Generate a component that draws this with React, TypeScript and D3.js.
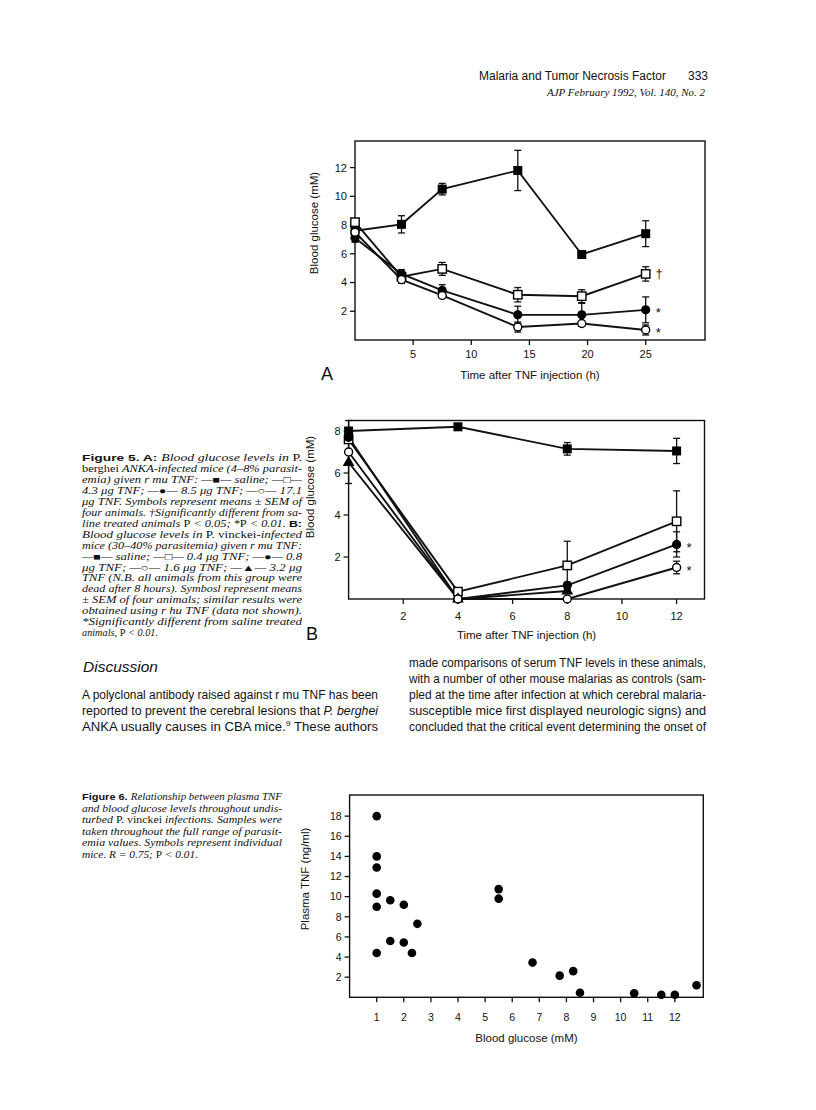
import * as d3 from 'd3'

const SANS = '"Liberation Sans", Arial, Helvetica, sans-serif'
const SERIF = '"Liberation Serif", "DejaVu Serif", serif'

// Figure 5A: P. berghei ANKA, blood glucose (mM) against hours after TNF
const timesA = [0, 4, 7.5, 14, 19.5, 25]
const salineA = [7.6, 8.05, 10.5, 11.8, 5.95, 7.4]
const salineErrA = [0, 0.6, 0.4, 1.4, 0.1, 0.9]
const tnf43A = [8.2, 4.4, 4.95, 3.15, 3.05, 4.6]
const tnf43ErrA = [0, 0.3, 0.45, 0.5, 0.45, 0.5]
const tnf85A = [7.1, 4.6, 3.45, 1.75, 1.75, 2.1]
const tnf85ErrA = [0.3, 0.3, 0.4, 0.6, 0.8, 0.9]
const tnf171A = [7.5, 4.2, 3.1, 0.9, 1.15, 0.7]
const tnf171ErrA = [0.2, 0.25, 0.15, 0.35, 0.1, 0.35]
const xTicksA = [5, 10, 15, 20, 25]
const yTicksA = [2, 4, 6, 8, 10, 12]

// Figure 5B: P. vinckei
const timesB = [0, 4, 8, 12]
const salineB = [8.0, 8.2, 7.15, 7.05]
const salineErrB = [0.5, 0, 0.3, 0.6]
const tnf04B = [7.6, 0.35, 1.6, 3.7]
const tnf04ErrB = [0, 0, 1.15, 1.45]
const tnf08B = [7.7, 0, 0.65, 2.6]
const tnf08ErrB = [0, 0, 0.15, 0.6]
const tnf16B = [7.0, 0, 0, 1.5]
const tnf16ErrB = [0, 0, 0, 0.3]
const tnf32B = [6.5, 0, 0.38]
const tnf32ErrB = [1.0, 0, 0]
const xTicksB = [2, 4, 6, 8, 10, 12]
const yTicksB = [2, 4, 6, 8]

// Figure 6: individual mice
const glucoseC = [1, 1, 1, 1, 1, 1, 1.5, 1.5, 2, 2, 2.3, 2.5, 5.5, 5.5, 6.75, 7.75, 8.25, 8.5, 10.5, 11.5, 12, 12.8]
const plasmaTnfC = [18, 14, 12.9, 10.3, 9, 4.4, 9.65, 5.6, 9.2, 5.45, 4.4, 7.3, 10.75, 9.8, 3.45, 2.15, 2.6, 0.45, 0.4, 0.25, 0.25, 1.2]
const xTicksC = [1, 2, 3, 4, 5, 6, 7, 8, 9, 10, 11, 12]
const yTicksC = [2, 4, 6, 8, 10, 12, 14, 16, 18]

type MarkerKind = 'sq' | 'osq' | 'dot' | 'odot' | 'tri'
interface Series {
  values: number[]
  errors: number[]
  marker: MarkerKind
  note?: string
}

const seriesA: Series[] = [
  { values: salineA, errors: salineErrA, marker: 'sq' },
  { values: tnf43A, errors: tnf43ErrA, marker: 'osq', note: '†' },
  { values: tnf85A, errors: tnf85ErrA, marker: 'dot', note: '*' },
  { values: tnf171A, errors: tnf171ErrA, marker: 'odot', note: '*' },
]

const seriesB: Series[] = [
  { values: salineB, errors: salineErrB, marker: 'sq' },
  { values: tnf04B, errors: tnf04ErrB, marker: 'osq' },
  { values: tnf32B, errors: tnf32ErrB, marker: 'tri' },
  { values: tnf08B, errors: tnf08ErrB, marker: 'dot', note: '*' },
  { values: tnf16B, errors: tnf16ErrB, marker: 'odot', note: '*' },
]

function Marker({ kind, x, y }: { kind: MarkerKind; x: number; y: number }) {
  if (kind === 'sq') return <rect x={x - 4.5} y={y - 4.5} width={9} height={9} fill="#000" />
  if (kind === 'osq')
    return <rect x={x - 4.2} y={y - 4.2} width={8.4} height={8.4} fill="#fff" stroke="#000" strokeWidth={1.4} />
  if (kind === 'dot') return <circle cx={x} cy={y} r={4.6} fill="#000" />
  if (kind === 'odot') return <circle cx={x} cy={y} r={4} fill="#fff" stroke="#000" strokeWidth={1.4} />
  const tri = d3.symbol().type(d3.symbolTriangle).size(60)()
  return <path d={tri || ''} transform={`translate(${x},${y})`} fill="#000" />
}

interface ChartProps {
  left: number
  right: number
  top: number
  bottom: number
  xMax: number
  yMax: number
  xTicks: number[]
  yTicks: number[]
  tickFont: number
  xTickDy: number
  xLabel: string
  xLabelY: number
  yLabel: string
  yLabelX: number
  yLabelY: number
  panel?: string
  panelX?: number
  panelY?: number
  children: (x: d3.ScaleLinear<number, number>, y: d3.ScaleLinear<number, number>) => any
}

function Chart(p: ChartProps) {
  const x = d3.scaleLinear().domain([0, p.xMax]).range([p.left, p.right])
  const y = d3.scaleLinear().domain([0, p.yMax]).range([p.bottom, p.top])
  return (
    <g fontFamily={SANS} fill="#111">
      <rect x={p.left} y={p.top} width={p.right - p.left} height={p.bottom - p.top} fill="none" stroke="#111" strokeWidth={1.4} />
      {p.yTicks.map(t => (
        <g key={'y' + t}>
          <line x1={p.left - 5} x2={p.left} y1={y(t)} y2={y(t)} stroke="#111" strokeWidth={1.3} />
          <text x={p.left - 8} y={y(t)} dy="0.36em" textAnchor="end" fontSize={p.tickFont}>
            {t}
          </text>
        </g>
      ))}
      {p.xTicks.map(t => (
        <g key={'x' + t}>
          <line x1={x(t)} x2={x(t)} y1={p.bottom} y2={p.bottom + 5} stroke="#111" strokeWidth={1.3} />
          <text x={x(t)} y={p.bottom + p.xTickDy} textAnchor="middle" fontSize={p.tickFont}>
            {t}
          </text>
        </g>
      ))}
      <text x={(p.left + p.right) / 2} y={p.xLabelY} textAnchor="middle" fontSize={11.5}>
        {p.xLabel}
      </text>
      <text transform={`translate(${p.yLabelX},${p.yLabelY}) rotate(-90)`} textAnchor="middle" fontSize={11.5}>
        {p.yLabel}
      </text>
      {p.panel && (
        <text x={p.panelX} y={p.panelY} fontSize={18}>
          {p.panel}
        </text>
      )}
      {p.children(x, y)}
    </g>
  )
}

function LineSeries({ times, series, x, y }: { times: number[]; series: Series[]; x: any; y: any }) {
  const line = (vals: number[]) =>
    d3
      .line<number>()
      .x((_, i) => x(times[i]))
      .y(v => y(v))(vals) || ''
  return (
    <g>
      {series.map((s, k) => (
        <path key={'l' + k} d={line(s.values)} fill="none" stroke="#111" strokeWidth={1.9} />
      ))}
      {series.map((s, k) =>
        s.values.map((v, i) =>
          s.errors[i] > 0 ? (
            <g key={`e${k}-${i}`} stroke="#111" strokeWidth={1.3}>
              <line x1={x(times[i])} x2={x(times[i])} y1={y(v - s.errors[i])} y2={y(v + s.errors[i])} />
              <line x1={x(times[i]) - 3.5} x2={x(times[i]) + 3.5} y1={y(v - s.errors[i])} y2={y(v - s.errors[i])} />
              <line x1={x(times[i]) - 3.5} x2={x(times[i]) + 3.5} y1={y(v + s.errors[i])} y2={y(v + s.errors[i])} />
            </g>
          ) : null
        )
      )}
      {series.map((s, k) =>
        s.values.map((v, i) => <Marker key={`m${k}-${i}`} kind={s.marker} x={x(times[i])} y={y(v)} />)
      )}
      {series.map((s, k) => {
        if (!s.note) return null
        const last = s.values.length - 1
        return (
          <text key={'n' + k} x={x(times[last]) + 10} y={y(s.values[last])} dy={s.note === '*' ? '0.55em' : '0.38em'} fontSize={s.note === '*' ? 13 : 12}>
            {s.note}
          </text>
        )
      })}
    </g>
  )
}

type Seg = [string, 'b' | 'i' | 'r']

const fig5Caption: Seg[][] = [
  [['Figure 5.', 'b'], [' A: ', 'b'], ['Blood glucose levels in ', 'i'], ['P.', 'r']],
  [['berghei ', 'r'], ['ANKA-infected mice (4–8% parasit-', 'i']],
  [['emia) given r mu TNF: —■— saline; —□—', 'i']],
  [['4.3 μg TNF; —●— 8.5 μg TNF; —○— 17.1', 'i']],
  [['μg TNF. Symbols represent means ± SEM of', 'i']],
  [['four animals. †Significantly different from sa-', 'i']],
  [['line treated animals ', 'i'], ['P', 'r'], [' < 0.05; *', 'i'], ['P', 'r'], [' < 0.01. ', 'i'], ['B:', 'b']],
  [['Blood glucose levels in ', 'i'], ['P.', 'r'], [' vinckei', 'r'], ['-infected', 'i']],
  [['mice (30–40% parasitemia) given r mu TNF:', 'i']],
  [['—■— saline; —□— 0.4 μg TNF; —●— 0.8', 'i']],
  [['μg TNF; —○— 1.6 μg TNF; —▲— 3.2 μg', 'i']],
  [['TNF (N.B. all animals from this group were', 'i']],
  [['dead after 8 hours). Symbosl represent means', 'i']],
  [['± SEM of four animals; similar results were', 'i']],
  [['obtained using r hu TNF (data not shown).', 'i']],
  [['*Significantly different from saline treated', 'i']],
  [['animals, ', 'i'], ['P', 'r'], [' < 0.01.', 'i']],
]

const fig6Caption: Seg[][] = [
  [['Figure 6. ', 'b'], ['Relationship between plasma TNF', 'i']],
  [['and blood glucose levels throughout undis-', 'i']],
  [['turbed ', 'i'], ['P.', 'r'], [' vinckei ', 'r'], ['infections. Samples were', 'i']],
  [['taken throughout the full range of parasit-', 'i']],
  [['emia values. Symbols represent individual', 'i']],
  [['mice. ', 'i'], ['R', 'i'], [' = 0.75; ', 'i'], ['P', 'r'], [' < 0.01.', 'i']],
]

const leftColumn: Seg[][] = [
  [['A polyclonal antibody raised against r mu TNF has been', 'r']],
  [['reported to prevent the cerebral lesions that ', 'r'], ['P. berghei', 'i']],
  [['ANKA usually causes in CBA mice.', 'r'], ['9', 'b'], [' These authors', 'r']],
]

const rightColumn: Seg[][] = [
  [['made comparisons of serum TNF levels in these animals,', 'r']],
  [['with a number of other mouse malarias as controls (sam-', 'r']],
  [['pled at the time after infection at which cerebral malaria-', 'r']],
  [['susceptible mice first displayed neurologic signs) and', 'r']],
  [['concluded that the critical event determining the onset of', 'r']],
]

function Caption({ lines, x, y0, step, width, lastWidth }: { lines: Seg[][]; x: number; y0: number; step: number; width: number; lastWidth: number }) {
  return (
    <g fill="#111">
      {lines.map((segs, i) => (
        <text
          key={i}
          x={x}
          y={y0 + i * step}
          fontSize={9.6}
          textLength={i === lines.length - 1 ? lastWidth : width}
          lengthAdjust="spacingAndGlyphs"
        >
          {segs.map(([t, s], j) => (
            <tspan
              key={j}
              fontFamily={s === 'b' ? SANS : SERIF}
              fontWeight={s === 'b' ? 'bold' : 'normal'}
              fontStyle={s === 'i' ? 'italic' : 'normal'}
            >
              {t}
            </tspan>
          ))}
        </text>
      ))}
    </g>
  )
}

function Body({ lines, x, y0, step, width }: { lines: Seg[][]; x: number; y0: number; step: number; width: number }) {
  return (
    <g fill="#111" fontFamily={SANS}>
      {lines.map((segs, i) => (
        <text key={i} x={x} y={y0 + i * step} fontSize={12} textLength={width} lengthAdjust="spacingAndGlyphs">
          {segs.map(([t, s], j) =>
            s === 'b' ? (
              <tspan key={j} fontSize={8} dy={-5}>
                {t}
              </tspan>
            ) : (
              <tspan key={j} fontStyle={s === 'i' ? 'italic' : 'normal'} dy={j > 0 && segs[j - 1][1] === 'b' ? 5 : 0}>
                {t}
              </tspan>
            )
          )}
        </text>
      ))}
    </g>
  )
}

export default function App() {
  return (
    <svg
      width={816}
      height={1110}
      viewBox="0 0 816 1110"
      style={{ position: 'absolute', left: 0, top: 0, background: '#fff' }}
    >
      <defs>
        <linearGradient id="scanline" x1="0" x2="1" y1="0" y2="0">
          <stop offset="0" stopColor="#222" />
          <stop offset="0.6" stopColor="#666" />
          <stop offset="1" stopColor="#fff" />
        </linearGradient>
      </defs>

      {/* running head */}
      <text x={479} y={80} fontFamily={SANS} fontSize={12} fill="#111" textLength={187} lengthAdjust="spacingAndGlyphs">
        Malaria and Tumor Necrosis Factor
      </text>
      <text x={708} y={80} fontFamily={SANS} fontSize={12} fill="#111" textAnchor="end">
        333
      </text>
      <text x={705} y={96} fontFamily={SERIF} fontStyle="italic" fontSize={11} fill="#111" textAnchor="end">
        AJP February 1992, Vol. 140, No. 2
      </text>

      {/* Figure 5A */}
      <Chart
        left={355}
        right={705}
        top={141}
        bottom={340}
        xMax={30.1}
        yMax={13.85}
        xTicks={xTicksA}
        yTicks={yTicksA}
        tickFont={11}
        xTickDy={18}
        xLabel="Time after TNF injection (h)"
        xLabelY={379}
        yLabel="Blood glucose (mM)"
        yLabelX={318}
        yLabelY={223}
        panel="A"
        panelX={321}
        panelY={380}
      >
        {(x, y) => <LineSeries times={timesA} series={seriesA} x={x} y={y} />}
      </Chart>
      <line x1={348} x2={620} y1={388} y2={388} stroke="url(#scanline)" strokeWidth={1.5} />

      {/* Figure 5B */}
      <Chart
        left={348.6}
        right={704.5}
        top={420.5}
        bottom={599}
        xMax={13.02}
        yMax={8.5}
        xTicks={xTicksB}
        yTicks={yTicksB}
        tickFont={11}
        xTickDy={21}
        xLabel="Time after TNF injection (h)"
        xLabelY={639}
        yLabel="Blood glucose (mM)"
        yLabelX={314}
        yLabelY={487}
        panel="B"
        panelX={306}
        panelY={640}
      >
        {(x, y) => <LineSeries times={timesB} series={seriesB} x={x} y={y} />}
      </Chart>

      <Caption lines={fig5Caption} x={82} y0={461} step={10.95} width={220} lastWidth={76} />

      {/* Discussion */}
      <text x={83} y={672} fontFamily={SANS} fontStyle="italic" fontSize={15.5} fill="#111">
        Discussion
      </text>
      <Body lines={leftColumn} x={82} y0={699} step={16} width={296} />
      <Body lines={rightColumn} x={409} y0={667} step={16} width={297} />

      {/* Figure 6 */}
      <Caption lines={fig6Caption} x={82} y0={800} step={11.6} width={200} lastWidth={116} />
      <Chart
        left={349.6}
        right={703.3}
        top={795}
        bottom={997.3}
        xMax={13.05}
        yMax={20.1}
        xTicks={xTicksC}
        yTicks={yTicksC}
        tickFont={10.5}
        xTickDy={24}
        xLabel="Blood glucose (mM)"
        xLabelY={1042}
        yLabel="Plasma TNF (ng/ml)"
        yLabelX={309}
        yLabelY={879}
      >
        {(x, y) => (
          <g>
            {glucoseC.map((g, i) => (
              <circle key={i} cx={x(g)} cy={y(plasmaTnfC[i])} r={4.3} fill="#000" />
            ))}
          </g>
        )}
      </Chart>
    </svg>
  )
}
